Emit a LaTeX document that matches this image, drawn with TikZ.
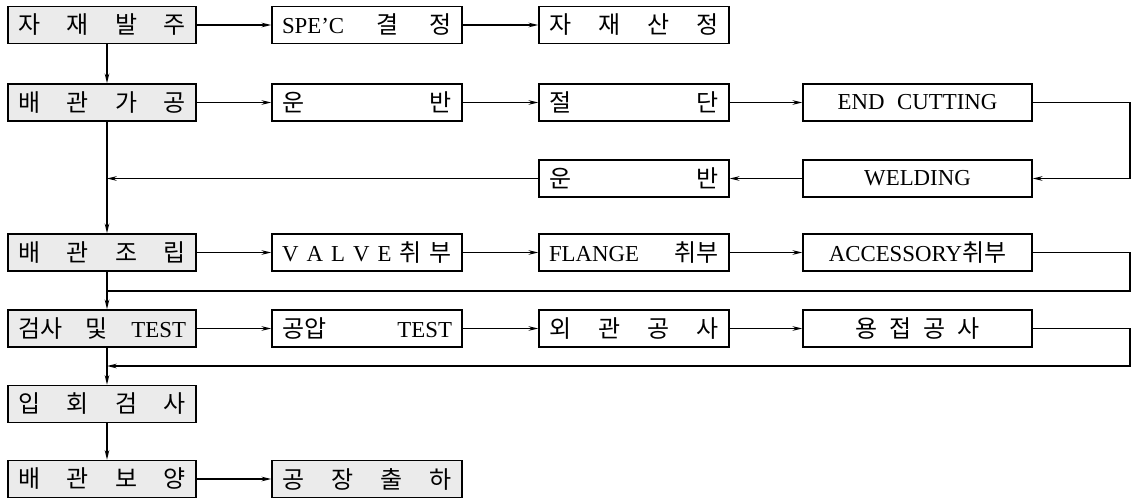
\documentclass[tikz,border=0pt]{standalone}
\usepackage{fontspec}
\setmainfont{Liberation Serif}
\newfontfamily\krfont[Scale=1.05]{Noto Sans CJK KR}
\newcommand{\kr}[1]{{\krfont #1}}
\newcommand{\spreadbox}[2]{\makebox[#1][s]{#2}}
\usetikzlibrary{arrows.meta}

\begin{document}
\begin{tikzpicture}[x=0.02cm,y=-0.02cm,>={Stealth[length=5.5pt,width=2.6pt]},
  line width=0.85pt,font=\fontsize{13}{15}\selectfont,
  box/.style={draw,minimum width=3.8cm,minimum height=0.74cm,inner sep=0pt},
  shaded/.style={box,fill=black!8},
  wide/.style={box,minimum width=4.58cm}]
  \useasboundingbox (0,0) rectangle (1133,498);

  % main column
  \node[shaded,minimum width=3.76cm] (order)   at (102,25)    {\spreadbox{3.36cm}{\kr{자}\hfill\kr{재}\hfill\kr{발}\hfill\kr{주}}};
  \node[shaded,minimum width=3.76cm] (work)    at (102,102.5) {\spreadbox{3.36cm}{\kr{배}\hfill\kr{관}\hfill\kr{가}\hfill\kr{공}}};
  \node[shaded,minimum width=3.76cm] (fit)     at (102,252.5) {\spreadbox{3.36cm}{\kr{배}\hfill\kr{관}\hfill\kr{조}\hfill\kr{립}}};
  \node[shaded,minimum width=3.76cm] (check)   at (102,328.5) {\spreadbox{3.36cm}{\kr{검사}\hfill\kr{및}\hfill TEST}};
  \node[shaded,minimum width=3.76cm] (witness) at (102,404)   {\spreadbox{3.36cm}{\kr{입}\hfill\kr{회}\hfill\kr{검}\hfill\kr{사}}};
  \node[shaded,minimum width=3.76cm] (protect) at (102,479)   {\spreadbox{3.36cm}{\kr{배}\hfill\kr{관}\hfill\kr{보}\hfill\kr{양}}};

  % row 1
  \node[box] (spec)  at (367,25) {\spreadbox{3.4cm}{SPE'C\hfill\kr{결}\hfill\kr{정}}};
  \node[box] (calc)  at (634,25) {\spreadbox{3.4cm}{\kr{자}\hfill\kr{재}\hfill\kr{산}\hfill\kr{정}}};

  % row 2
  \node[box]  (move)  at (367,102.5)   {\spreadbox{3.4cm}{\kr{운}\hfill\kr{반}}};
  \node[box]  (cut)   at (634,102.5)   {\spreadbox{3.4cm}{\kr{절}\hfill\kr{단}}};
  \node[wide] (endc)  at (917.5,102.5) {END\hspace{0.3em} CUTTING};
  \node[wide] (weld)  at (917.5,178.5) {WELDING};
  \node[box]  (moveb) at (634,178.5)   {\spreadbox{3.4cm}{\kr{운}\hfill\kr{반}}};

  % row 3
  \node[box]  (valve)  at (367,252.5)   {\spreadbox{3.4cm}{V\hfill A\hfill L\hfill V\hfill E\hfill\kr{취}\hfill\kr{부}}};
  \node[box]  (flange) at (634,252.5)   {\spreadbox{3.4cm}{FLANGE\hfill\kr{취부}}};
  \node[wide] (acc)    at (917.5,252.5) {ACCESSORY\kr{취부}};

  % row 4
  \node[box]  (air)   at (367,328.5)   {\spreadbox{3.4cm}{\kr{공압}\hfill TEST}};
  \node[box]  (look)  at (634,328.5)   {\spreadbox{3.4cm}{\kr{외}\hfill\kr{관}\hfill\kr{공}\hfill\kr{사}}};
  \node[wide] (wjob)  at (917.5,328.5) {\kr{용\hspace{0.5em}접\hspace{0.5em}공\hspace{0.5em}사}};

  % row 6
  \node[shaded] (ship) at (367,479) {\spreadbox{3.4cm}{\kr{공}\hfill\kr{장}\hfill\kr{출}\hfill\kr{하}}};

  \coordinate (spine) at (107,0);
  \coordinate (rx) at (1130,0);
  \coordinate (back3) at (0,291);
  \coordinate (back4) at (0,366);

  % main column
  \draw[->] (order.south -| spine) -- (work.north -| spine);
  \draw[->] (work.south -| spine) -- (fit.north -| spine);
  \draw[->] (fit.south -| spine) -- (check.north -| spine);
  \draw[->] (check.south -| spine) -- (witness.north -| spine);
  \draw[->] (witness.south -| spine) -- (protect.north -| spine);

  % rows
  \draw[->] (order) -- (spec);
  \draw[->] (spec) -- (calc);
  \draw[->] (work) -- (move);
  \draw[->] (move) -- (cut);
  \draw[->] (cut) -- (endc);
  \draw[->] (endc.east) -- (endc.east -| rx) -- (weld.east -| rx) -- (weld.east);
  \draw[->] (weld) -- (moveb);
  \draw[->] (moveb.west) -- (moveb.west -| spine);
  \draw[->] (fit) -- (valve);
  \draw[->] (valve) -- (flange);
  \draw[->] (flange) -- (acc);
  \draw (acc.east) -- (acc.east -| rx) -- (rx |- back3) -- (spine |- back3);
  \draw[->] (check) -- (air);
  \draw[->] (air) -- (look);
  \draw[->] (look) -- (wjob);
  \draw[->] (wjob.east) -- (wjob.east -| rx) -- (rx |- back4) -- (spine |- back4);
  \draw[->] (protect) -- (ship);
\end{tikzpicture}
\end{document}
